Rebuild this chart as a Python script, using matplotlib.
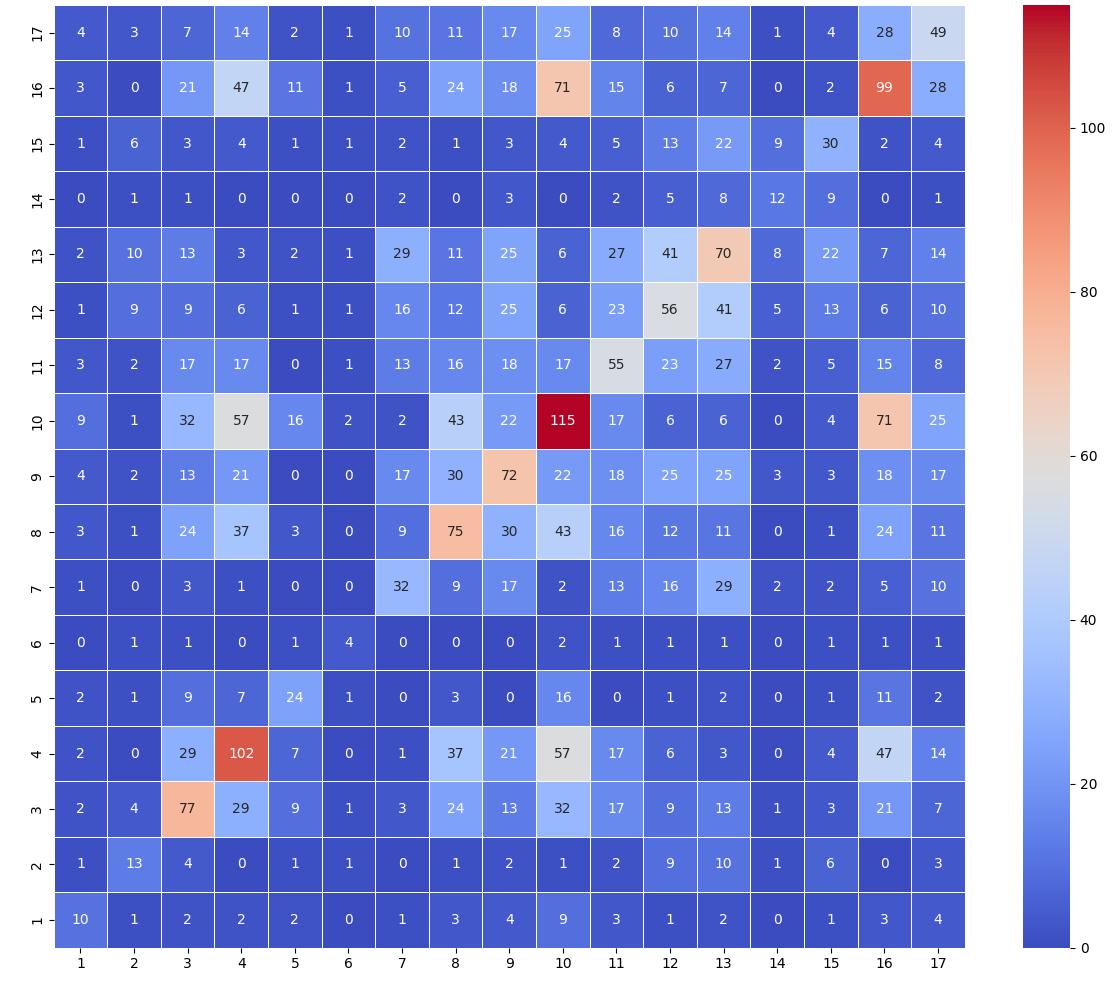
import matplotlib
matplotlib.use("Agg")
import matplotlib.pyplot as plt
import numpy as np
import seaborn as sns

labels = list(range(1, 18))

# rows listed from label 1 (bottom) to label 17 (top); columns 1..17
row_1 = [10, 1, 2, 2, 2, 0, 1, 3, 4, 9, 3, 1, 2, 0, 1, 3, 4]
row_2 = [1, 13, 4, 0, 1, 1, 0, 1, 2, 1, 2, 9, 10, 1, 6, 0, 3]
row_3 = [2, 4, 77, 29, 9, 1, 3, 24, 13, 32, 17, 9, 13, 1, 3, 21, 7]
row_4 = [2, 0, 29, 102, 7, 0, 1, 37, 21, 57, 17, 6, 3, 0, 4, 47, 14]
row_5 = [2, 1, 9, 7, 24, 1, 0, 3, 0, 16, 0, 1, 2, 0, 1, 11, 2]
row_6 = [0, 1, 1, 0, 1, 4, 0, 0, 0, 2, 1, 1, 1, 0, 1, 1, 1]
row_7 = [1, 0, 3, 1, 0, 0, 32, 9, 17, 2, 13, 16, 29, 2, 2, 5, 10]
row_8 = [3, 1, 24, 37, 3, 0, 9, 75, 30, 43, 16, 12, 11, 0, 1, 24, 11]
row_9 = [4, 2, 13, 21, 0, 0, 17, 30, 72, 22, 18, 25, 25, 3, 3, 18, 17]
row_10 = [9, 1, 32, 57, 16, 2, 2, 43, 22, 115, 17, 6, 6, 0, 4, 71, 25]
row_11 = [3, 2, 17, 17, 0, 1, 13, 16, 18, 17, 55, 23, 27, 2, 5, 15, 8]
row_12 = [1, 9, 9, 6, 1, 1, 16, 12, 25, 6, 23, 56, 41, 5, 13, 6, 10]
row_13 = [2, 10, 13, 3, 2, 1, 29, 11, 25, 6, 27, 41, 70, 8, 22, 7, 14]
row_14 = [0, 1, 1, 0, 0, 0, 2, 0, 3, 0, 2, 5, 8, 12, 9, 0, 1]
row_15 = [1, 6, 3, 4, 1, 1, 2, 1, 3, 4, 5, 13, 22, 9, 30, 2, 4]
row_16 = [3, 0, 21, 47, 11, 1, 5, 24, 18, 71, 15, 6, 7, 0, 2, 99, 28]
row_17 = [4, 3, 7, 14, 2, 1, 10, 11, 17, 25, 8, 10, 14, 1, 4, 28, 49]

matrix = np.array([
    row_1, row_2, row_3, row_4, row_5, row_6, row_7, row_8, row_9,
    row_10, row_11, row_12, row_13, row_14, row_15, row_16, row_17,
])

fig = plt.figure(figsize=(11.18, 9.81), dpi=100, facecolor="white")
ax = fig.add_axes([0.048, 0.034, 0.815, 0.961])
cax = fig.add_axes([0.915, 0.034, 0.042, 0.961])

sns.heatmap(
    matrix, ax=ax, cbar_ax=cax, cmap="coolwarm", annot=True, fmt="d",
    linewidths=0.5, linecolor="white", vmin=0, vmax=115,
    xticklabels=labels, yticklabels=labels,
    annot_kws={"fontsize": 10},
)
ax.invert_yaxis()
ax.tick_params(axis="both", labelsize=10)
ax.set_yticklabels(labels, rotation=90, va="center")
ax.set_xticklabels(labels, rotation=0)
cax.tick_params(labelsize=10)
cax.set_yticks([0, 20, 40, 60, 80, 100])

# axis label sits mostly outside the canvas in the reference
fig.text(-0.006, 0.52, "true", rotation=90, fontsize=10, va="center", ha="center")

fig.savefig("out.png", dpi=100)
